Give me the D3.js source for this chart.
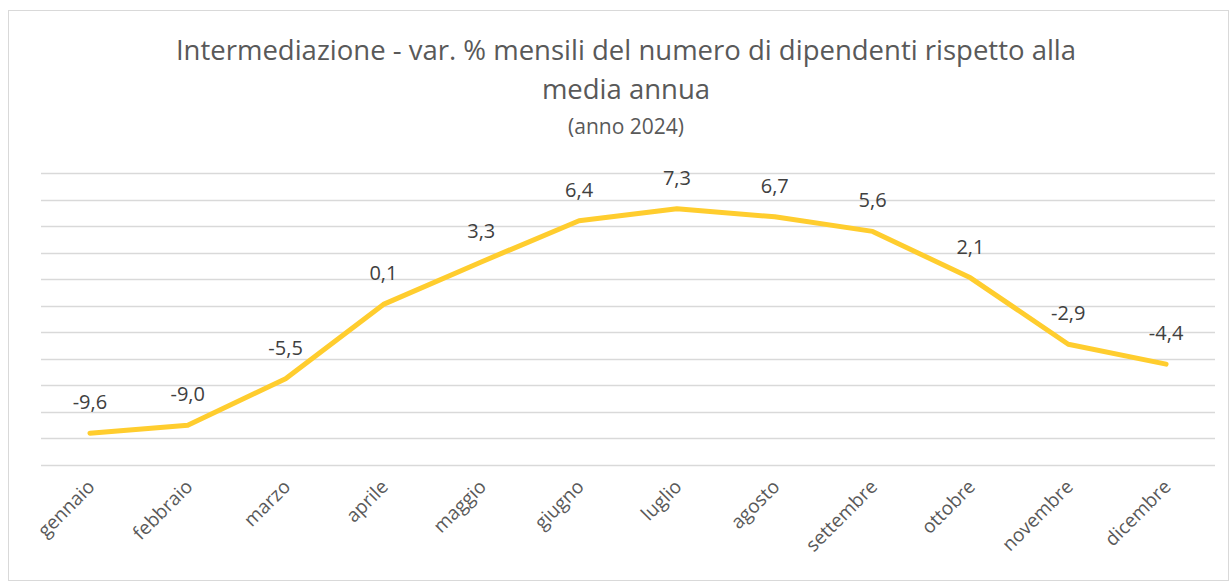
<!DOCTYPE html>
<html>
<head>
<meta charset="utf-8">
<script src="https://cdn.jsdelivr.net/npm/d3@7"></script>
<style>
  html, body { margin: 0; padding: 0; background: #fff; }
  svg { display: block; font-family: "Open Sans", "Noto Sans", sans-serif; }
</style>
</head>
<body>
<div id="chart"></div>
<script>
const months = ['gennaio', 'febbraio', 'marzo', 'aprile', 'maggio', 'giugno',
  'luglio', 'agosto', 'settembre', 'ottobre', 'novembre', 'dicembre'];
const values = [-9.6, -9.0, -5.5, 0.1, 3.3, 6.4, 7.3, 6.7, 5.6, 2.1, -2.9, -4.4];
const gridTicks = [-12, -10, -8, -6, -4, -2, 0, 2, 4, 6, 8, 10];
const titleLines = ['Intermediazione - var. % mensili del numero di dipendenti rispetto alla', 'media annua'];
const subtitle = '(anno 2024)';

const W = 1231, H = 582;
const plot = { left: 41, right: 1215, top: 173, bottom: 465 };

const svg = d3.select('#chart').append('svg')
  .attr('width', W).attr('height', H);

// chart border
svg.append('rect')
  .attr('x', 8.5).attr('y', 10.5)
  .attr('width', W - 11).attr('height', H - 12)
  .attr('fill', '#fff').attr('stroke', '#d9d9d9');

const x = d3.scaleBand().domain(months).range([plot.left, plot.right]);
const y = d3.scaleLinear().domain([-12, 10]).range([plot.bottom, plot.top]);

// gridlines
svg.append('g').selectAll('line')
  .data(gridTicks)
  .join('line')
  .attr('x1', plot.left).attr('x2', plot.right)
  .attr('y1', d => Math.round(y(d)) + 0.5).attr('y2', d => Math.round(y(d)) + 0.5)
  .attr('stroke', '#d9d9d9').attr('stroke-width', 1.5);

// title
const title = svg.append('text')
  .attr('text-anchor', 'middle')
  .attr('fill', '#595959')
  .attr('font-size', 27.5);
titleLines.forEach((t, i) => {
  title.append('tspan').attr('x', 626).attr('y', 60 + i * 39).text(t);
});
svg.append('text')
  .attr('x', 626).attr('y', 134)
  .attr('text-anchor', 'middle')
  .attr('fill', '#595959')
  .attr('font-size', 21)
  .text(subtitle);

// line
const line = d3.line()
  .x((d, i) => x(months[i]) + x.bandwidth() / 2)
  .y(d => y(d));

svg.append('path')
  .datum(values)
  .attr('fill', 'none')
  .attr('stroke', '#ffcd2e')
  .attr('stroke-width', 5)
  .attr('stroke-linejoin', 'round')
  .attr('stroke-linecap', 'round')
  .attr('d', line);

// data labels
const fmt = v => v.toFixed(1).replace('.', ',');
svg.append('g').selectAll('text')
  .data(values)
  .join('text')
  .attr('x', (d, i) => x(months[i]) + x.bandwidth() / 2)
  .attr('y', d => y(d) - 24)
  .attr('text-anchor', 'middle')
  .attr('fill', '#404040')
  .attr('font-size', 20)
  .text(fmt);

// x axis labels
svg.append('g').selectAll('text')
  .data(months)
  .join('text')
  .attr('transform', d => `translate(${x(d) + x.bandwidth() / 2 + 6},${488}) rotate(-45)`)
  .attr('text-anchor', 'end')
  .attr('fill', '#595959')
  .attr('font-size', 19)
  .text(d => d);
</script>
</body>
</html>
